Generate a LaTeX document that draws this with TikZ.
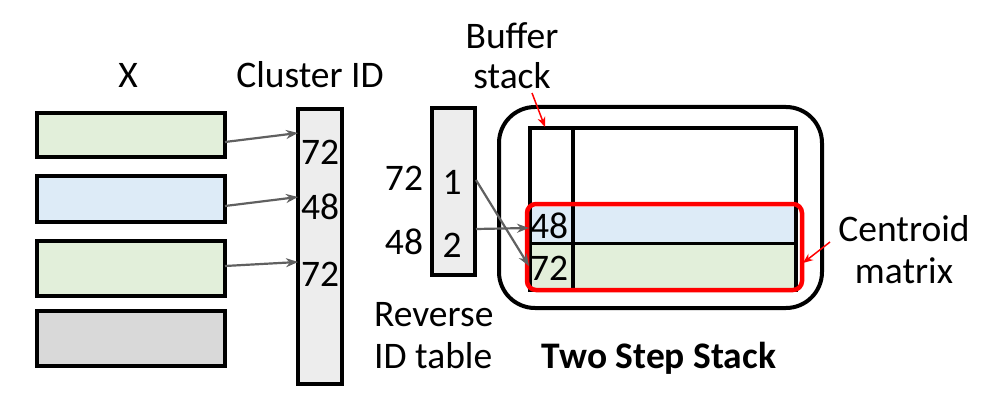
\documentclass[tikz,border=0pt]{standalone}
\usepackage{fontspec}
\setmainfont{Carlito}
\usetikzlibrary{arrows.meta}
\definecolor{lgreen}{HTML}{E2EFDA}
\definecolor{lblue}{HTML}{DDEBF7}
\definecolor{lgray}{HTML}{D9D9D9}
\definecolor{colgray}{HTML}{EDEDED}
\definecolor{arrgray}{HTML}{606060}
\begin{document}
\begin{tikzpicture}[x=1pt,y=-1pt,
  txt/.style={font=\fontsize{37.5}{40}\selectfont, inner sep=0pt},
  row/.style={draw=black, line width=4pt},
  col/.style={draw=black, line width=4pt, fill=colgray},
  garrow/.style={draw=arrgray, line width=2.2pt, -{Stealth[length=12pt,width=9pt]}},
  rarrow/.style={draw=red, line width=1.5pt, -{Stealth[length=10pt,width=8pt]}}]
\useasboundingbox (0,0) rectangle (986,412);
% X rows
\node[txt] (xlab) at (128,75) {X};
\draw[row, fill=lgreen] (37,113) rectangle (225,157);
\coordinate (r1e) at (225,142);
\draw[row, fill=lblue] (37,176) rectangle (225,222);
\coordinate (r2e) at (225,206);
\draw[row, fill=lgreen] (37,241) rectangle (225,296);
\coordinate (r3e) at (225,266);
\draw[row, fill=lgray] (37,311) rectangle (225,366);
% Cluster ID
\node[txt] (clab) at (310,75) {Cluster ID};
\draw[col] (298,109) rectangle (342,384);
\node[txt, anchor=west] (c1) at (301,152) {72};
\node[txt, anchor=west] (c2) at (301,207) {48};
\node[txt, anchor=west] (c3) at (301,274) {72};
\coordinate (c1in) at (298,133);
\coordinate (c2in) at (298,197);
\coordinate (c3in) at (298,262);
\draw[garrow] (r1e) -- (c1in);
\draw[garrow] (r2e) -- (c2in);
\draw[garrow] (r3e) -- (c3in);
% Reverse ID table
\draw[col] (432,108) rectangle (475,275);
\node[txt] (t1) at (452,182) {1};
\node[txt] (t2) at (452,245) {2};
\node[txt] (k1) at (404,178) {72};
\node[txt] (k2) at (404,242) {48};
\node[txt, align=left, anchor=north west] (rev) at (374,302) {Reverse\\[2pt]ID table};
% Buffer stack label
\node[txt, align=center] (buf) at (512,56) {Buffer\\[0pt]stack};
% Two step stack outer
\draw[line width=4pt, rounded corners=36pt] (499,107) rectangle (822,308);
% matrix
\fill[lblue] (530,207) rectangle (796,243);
\fill[lgreen] (530,243) rectangle (796,290);
\draw[line width=4pt] (530,128) rectangle (796,290);
\draw[line width=4pt] (573,128) -- (573,290);
\draw[line width=3pt] (530,243) -- (796,243);
\node[txt, anchor=west] (m48) at (530,226) {48};
\node[txt, anchor=west] (m72) at (530,268) {72};
% red centroid box
\draw[draw=red, line width=4.5pt, rounded corners=9pt] (527,204) rectangle (802,290);
% arrows from reverse table
\coordinate (t1o) at (476,180);
\coordinate (t2o) at (476,229);
\coordinate (m72in) at (529,266);
\coordinate (m48in) at (529,228);
\draw[garrow] (t2o) -- (m48in);
\draw[garrow] (t1o) -- (m72in);
% buffer stack red arrow
\coordinate (bufs) at (532,93);
\coordinate (bufe) at (545,127);
\draw[rarrow] (bufs) -- (bufe);
% centroid label
\node[txt, align=center] (cent) at (904,250) {Centroid\\[2pt]matrix};
\coordinate (cents) at (830,242);
\coordinate (cente) at (803,263);
\draw[rarrow] (cents) -- (cente);
% title
\node[txt, font=\fontsize{37.5}{40}\selectfont\bfseries] (title) at (659,358) {Two Step Stack};
\end{tikzpicture}
\end{document}
